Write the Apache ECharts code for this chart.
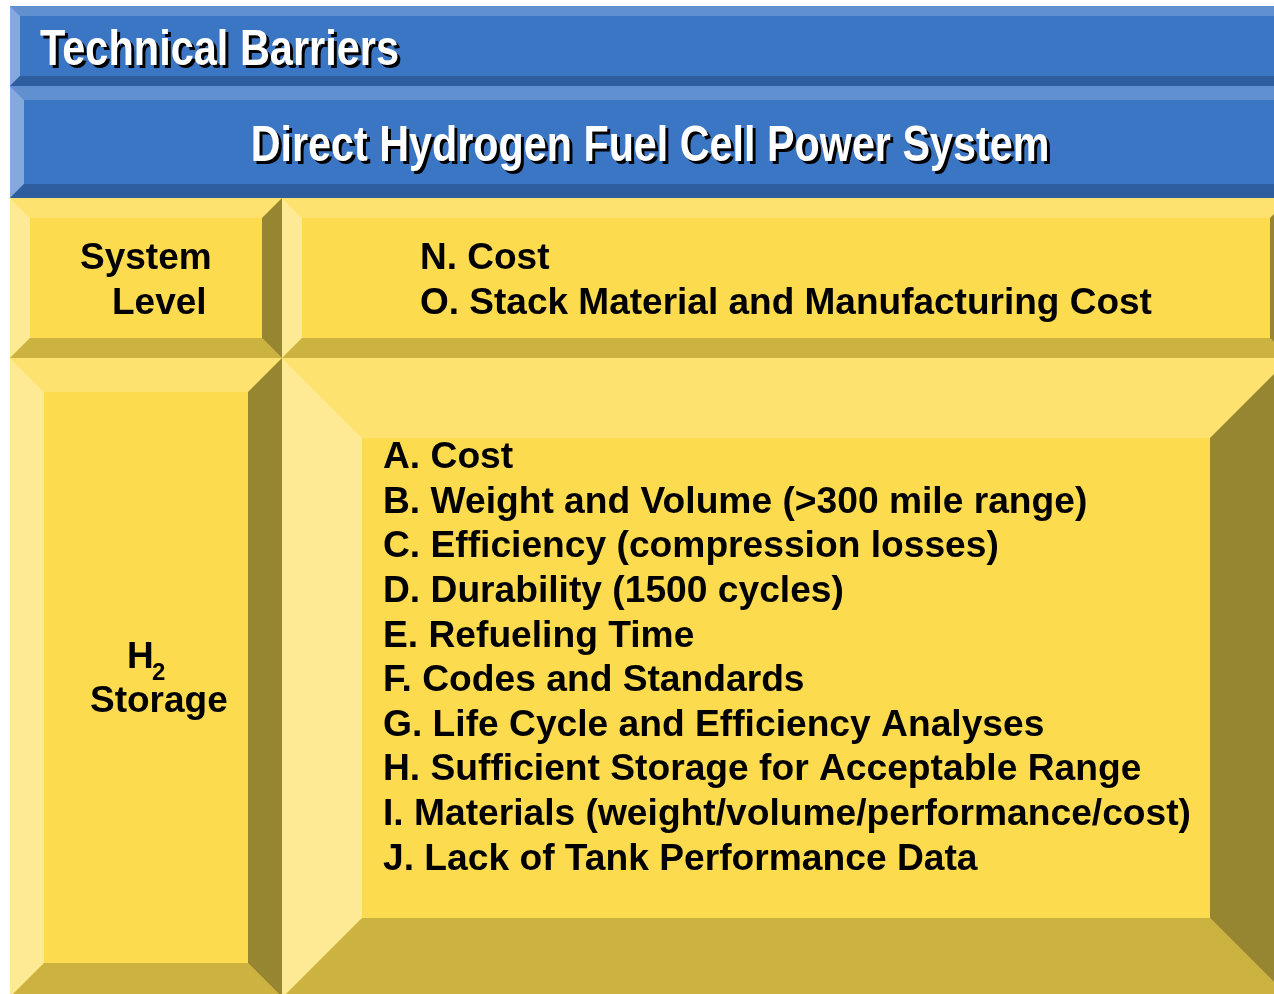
<!DOCTYPE html>
<html>
<head>
<meta charset="utf-8">
<script src="https://cdn.jsdelivr.net/npm/echarts@6/dist/echarts.min.js"></script>
<style>
html,body{margin:0;padding:0;background:#ffffff;}
#chart{width:1274px;height:994px;}
</style>
</head>
<body>
<div id="chart"></div>
<script>
// ---- content ----
var headerTitle = 'Technical Barriers';
var systemTitle = 'Direct Hydrogen Fuel Cell Power System';
var systemLevelLabel = ['System', 'Level'];
var systemLevelBarriers = ['N. Cost', 'O. Stack Material and Manufacturing Cost'];
var storageLabel = ['H', '2', 'Storage'];
var storageBarriers = [
  'A. Cost',
  'B. Weight and Volume (>300 mile range)',
  'C. Efficiency (compression losses)',
  'D. Durability (1500 cycles)',
  'E. Refueling Time',
  'F. Codes and Standards',
  'G. Life Cycle and Efficiency Analyses',
  'H. Sufficient Storage for Acceptable Range',
  'I. Materials (weight/volume/performance/cost)',
  'J. Lack of Tank Performance Data'
];

// ---- styling ----
var BLUE = {face:'#3a76c4', top:'#6190d0', left:'#84a9dd', bottom:'#2e5e9e', right:'#24497a'};
var YEL  = {face:'#fddb4f', top:'#fee270', left:'#fee994', bottom:'#cbb241', right:'#978631'};
var FONT = '"Liberation Sans", Arial, sans-serif';

function bevelBox(x0, y0, x1, y1, b, c) {
  function poly(pts, color) {
    return {type:'polygon', silent:true, shape:{points:pts}, style:{fill:color, stroke:null}};
  }
  return [
    {type:'rect', silent:true, shape:{x:x0, y:y0, width:x1-x0, height:y1-y0}, style:{fill:c.face}},
    poly([[x0,y0],[x1,y0],[x1-b,y0+b],[x0+b,y0+b]], c.top),
    poly([[x0,y0],[x0+b,y0+b],[x0+b,y1-b],[x0,y1]], c.left),
    poly([[x0,y1],[x0+b,y1-b],[x1-b,y1-b],[x1,y1]], c.bottom),
    poly([[x1,y0],[x1,y1],[x1-b,y1-b],[x1-b,y0+b]], c.right)
  ];
}

// y given as alphabetic baseline; convert to middle
function txt(str, x, baseline, size, color, align, extra) {
  var el = {
    type:'text', silent:true, x:x, y:baseline - 0.245*size,
    style:{text:str, fill:color, font:'bold ' + size + 'px ' + FONT,
           textAlign:align || 'left', textVerticalAlign:'middle'}
  };
  if (extra) for (var k in extra) el[k] = extra[k];
  return el;
}

function shadowText(str, x, baseline, size, align, sx) {
  return [
    txt(str, x + 3, baseline + 3, size, '#000000', align, {scaleX:sx}),
    txt(str, x, baseline, size, '#ffffff', align, {scaleX:sx})
  ];
}

var els = [];
els = els.concat(bevelBox(10, 6, 1300, 86, 10, BLUE));
els = els.concat(bevelBox(10, 86, 1300, 198, 14, BLUE));
els = els.concat(bevelBox(10, 198, 282, 358, 20, YEL));
els = els.concat(bevelBox(282, 198, 1290, 358, 20, YEL));
els = els.concat(bevelBox(10, 358, 282, 997, 34, YEL));
els = els.concat(bevelBox(282, 358, 1290, 998, 80, YEL));

els = els.concat(shadowText(headerTitle, 40, 63, 50, 'left', 0.83));
els = els.concat(shadowText(systemTitle, 650, 159, 50, 'center', 0.826));

els.push(txt(systemLevelLabel[0], 80, 268, 37, '#000'));
els.push(txt(systemLevelLabel[1], 112, 313, 37, '#000'));
for (var i = 0; i < systemLevelBarriers.length; i++) {
  els.push(txt(systemLevelBarriers[i], 420, 268 + i*45, 37, '#000'));
}

els.push(txt(storageLabel[0], 127, 667, 37, '#000'));
els.push(txt(storageLabel[1], 152, 679, 24, '#000'));
els.push(txt(storageLabel[2], 90, 711, 37, '#000'));

for (var j = 0; j < storageBarriers.length; j++) {
  els.push(txt(storageBarriers[j], 383, 467 + j*44.6, 37.2, '#000'));
}

var chart = echarts.init(document.getElementById('chart'), null, {renderer:'canvas'});
chart.setOption({
  animation:false,
  backgroundColor:'#ffffff',
  graphic:{elements:els}
});
</script>
</body>
</html>
